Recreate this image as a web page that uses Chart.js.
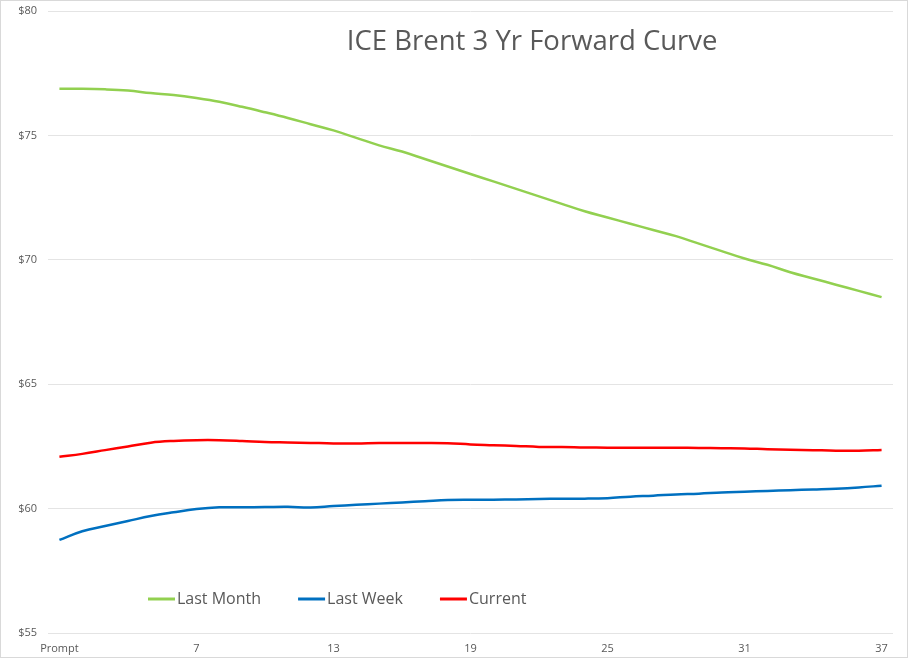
<!DOCTYPE html>
<html>
<head>
<meta charset="utf-8">
<script src="https://cdn.jsdelivr.net/npm/chart.js@4"></script>
<style>
  body { margin: 0; background: #fff; }
  #wrap { position: relative; width: 910px; height: 660px; }
  #frame { position: absolute; left: 0; top: 0; width: 906px; height: 656px; border: 1px solid #d9d9d9; pointer-events: none; }
</style>
</head>
<body>
<div id="wrap">
  <canvas id="curveChart" width="910" height="660"></canvas>
  <div id="frame"></div>
</div>
<script>
// Contract months: prompt, then 2..37
const months = ["Prompt"];
for (let m = 2; m <= 37; m++) months.push(String(m));

const lastMonth = [
  76.87, 76.87, 76.85, 76.80, 76.70, 76.62, 76.50, 76.35, 76.15, 75.93,
  75.70, 75.45, 75.20, 74.90, 74.60, 74.35, 74.05, 73.75, 73.45, 73.15,
  72.85, 72.55, 72.25, 71.95, 71.70, 71.45, 71.20, 70.95, 70.65, 70.35,
  70.05, 69.80, 69.50, 69.25, 69.00, 68.75, 68.50
];
const lastWeek = [
  58.74, 59.09, 59.30, 59.50, 59.70, 59.85, 59.98, 60.05, 60.05, 60.06,
  60.07, 60.04, 60.10, 60.15, 60.20, 60.25, 60.30, 60.35, 60.36, 60.36,
  60.37, 60.39, 60.40, 60.40, 60.42, 60.48, 60.52, 60.57, 60.60, 60.65,
  60.68, 60.71, 60.74, 60.77, 60.80, 60.85, 60.92
];
const current = [
  62.08, 62.20, 62.35, 62.50, 62.65, 62.72, 62.75, 62.75, 62.72, 62.68,
  62.66, 62.64, 62.62, 62.62, 62.64, 62.64, 62.64, 62.63, 62.58, 62.55,
  62.52, 62.48, 62.48, 62.46, 62.45, 62.45, 62.45, 62.45, 62.44, 62.43,
  62.42, 62.39, 62.37, 62.35, 62.33, 62.33, 62.36
];
const yTicks = [55, 60, 65, 70, 75, 80];

const textColor = "#595959";
const fontFamily = "'Open Sans', sans-serif";

// Title sits inside the plot, a bit right of centre
const innerTitle = {
  id: "innerTitle",
  afterDraw(chart) {
    const { ctx, chartArea } = chart;
    ctx.save();
    ctx.font = "27.5px " + fontFamily;
    ctx.fillStyle = textColor;
    ctx.textAlign = "center";
    ctx.textBaseline = "middle";
    const x = chartArea.left + (chartArea.right - chartArea.left) * 0.573;
    ctx.fillText("ICE Brent 3 Yr Forward Curve", x, chartArea.top + 31);
    ctx.restore();
  },
};

// Legend drawn inside the plot near the bottom
const innerLegend = {
  id: "innerLegend",
  afterDraw(chart) {
    const { ctx, chartArea } = chart;
    ctx.save();
    ctx.font = "16px " + fontFamily;
    ctx.textBaseline = "middle";
    let x = chartArea.left + 100;
    const y = chartArea.bottom - 34;
    chart.data.datasets.forEach((ds) => {
      ctx.strokeStyle = ds.borderColor;
      ctx.lineWidth = 3;
      ctx.beginPath();
      ctx.moveTo(x, y);
      ctx.lineTo(x + 27, y);
      ctx.stroke();
      ctx.fillStyle = textColor;
      ctx.fillText(ds.label, x + 29, y);
      x += 29 + ctx.measureText(ds.label).width + 37;
    });
    ctx.restore();
  },
};

const ctx = document.getElementById("curveChart");
new Chart(ctx, {
  type: "line",
  data: {
    labels: months,
    datasets: [
      { label: "Last Month", data: lastMonth, borderColor: "#92d050" },
      { label: "Last Week", data: lastWeek, borderColor: "#0070c0" },
      { label: "Current", data: current, borderColor: "#ff0000" },
    ],
  },
  options: {
    responsive: false,
    animation: false,
    devicePixelRatio: 1,
    layout: { padding: { left: 0, right: 17, top: 11, bottom: 0 } },
    elements: {
      line: { borderWidth: 2.5, tension: 0.4 },
      point: { radius: 0 },
    },
    plugins: {
      legend: { display: false },
      title: { display: false },
      tooltip: { enabled: false },
    },
    scales: {
      x: {
        offset: true,
        grid: { display: false },
        border: { display: false },
        ticks: {
          autoSkip: false,
          maxRotation: 0,
          padding: 1,
          color: textColor,
          font: { family: fontFamily, size: 11 },
          callback: function (value, index) {
            return index % 6 === 0 ? months[index] : "";
          },
        },
        afterFit: function (scale) {
          scale.height = 27;
          scale.paddingLeft = 0;
          scale.paddingRight = 0;
        },
      },
      y: {
        min: yTicks[0],
        max: yTicks[yTicks.length - 1],
        afterBuildTicks: function (scale) {
          scale.ticks = yTicks.map((v) => ({ value: v }));
        },
        grid: { color: "#e4e4e4", lineWidth: 1, drawTicks: false },
        border: { display: false },
        ticks: {
          padding: 11,
          color: textColor,
          font: { family: fontFamily, size: 11 },
          callback: function (value) {
            return "$" + value;
          },
        },
        afterFit: function (scale) {
          scale.width = 48;
          scale.paddingTop = 0;
          scale.paddingBottom = 0;
        },
      },
    },
  },
  plugins: [innerTitle, innerLegend],
});
</script>
</body>
</html>
